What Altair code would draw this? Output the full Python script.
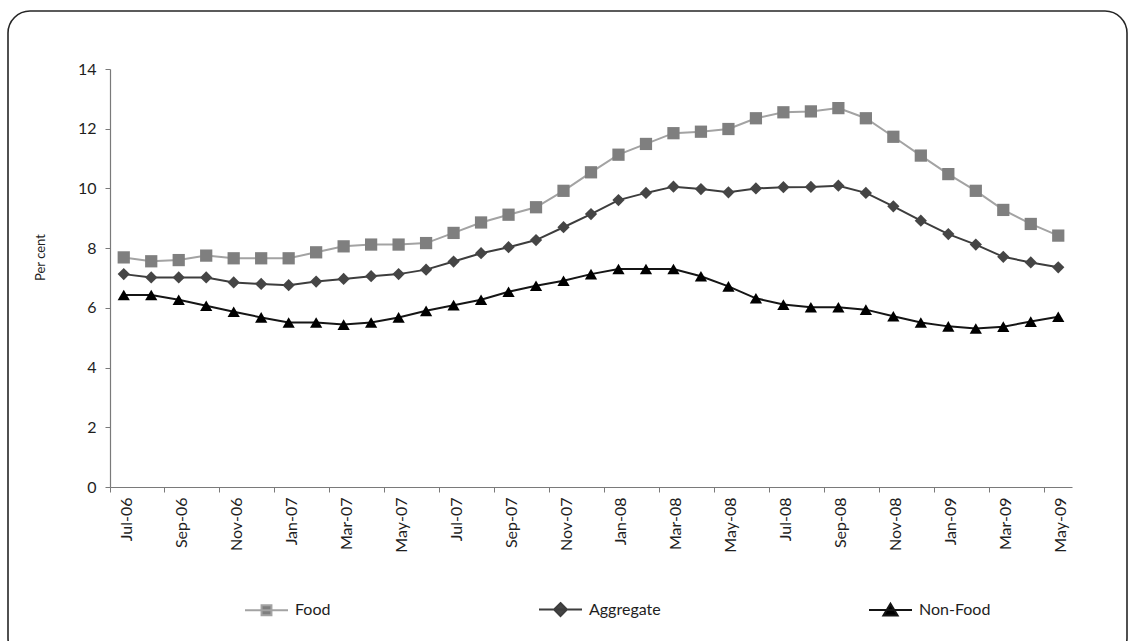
import altair as alt
import pandas as pd

# Monthly inflation (per cent), July 2006 to May 2009
months = [
    "Jul-06", "Aug-06", "Sep-06", "Oct-06", "Nov-06", "Dec-06",
    "Jan-07", "Feb-07", "Mar-07", "Apr-07", "May-07", "Jun-07",
    "Jul-07", "Aug-07", "Sep-07", "Oct-07", "Nov-07", "Dec-07",
    "Jan-08", "Feb-08", "Mar-08", "Apr-08", "May-08", "Jun-08",
    "Jul-08", "Aug-08", "Sep-08", "Oct-08", "Nov-08", "Dec-08",
    "Jan-09", "Feb-09", "Mar-09", "Apr-09", "May-09",
]

food = [
    7.69, 7.56, 7.60, 7.75, 7.66, 7.66,
    7.66, 7.86, 8.06, 8.12, 8.12, 8.17,
    8.51, 8.86, 9.12, 9.37, 9.92, 10.54,
    11.13, 11.49, 11.85, 11.90, 11.99, 12.35,
    12.55, 12.58, 12.69, 12.35, 11.73, 11.10,
    10.48, 9.92, 9.28, 8.81, 8.42,
]

aggregate = [
    7.13, 7.02, 7.02, 7.02, 6.85, 6.80,
    6.76, 6.88, 6.97, 7.06, 7.13, 7.28,
    7.55, 7.83, 8.03, 8.27, 8.70, 9.14,
    9.61, 9.85, 10.06, 9.98, 9.87, 10.00,
    10.04, 10.05, 10.09, 9.85, 9.40, 8.92,
    8.47, 8.12, 7.71, 7.52, 7.36,
]

non_food = [
    6.43, 6.43, 6.27, 6.07, 5.87, 5.68,
    5.51, 5.51, 5.44, 5.51, 5.68, 5.90,
    6.09, 6.27, 6.54, 6.74, 6.91, 7.13,
    7.30, 7.30, 7.30, 7.06, 6.72, 6.32,
    6.11, 6.02, 6.02, 5.94, 5.72, 5.51,
    5.38, 5.31, 5.37, 5.54, 5.70,
]

series_names = ["Food", "Aggregate", "Non-Food"]
y_ticks = [0, 2, 4, 6, 8, 10, 12, 14]

# Styling
line_colors = ["#a3a3a3", "#3d3d3d", "#151515"]
marker_colors = ["#7f7f7f", "#454545", "#000000"]
marker_shapes = ["square", "diamond", "triangle-up"]
# Legend keys: a short line segment with the series marker in the middle
legend_paths = [
    "M-1,0H1M-0.23,-0.23H0.23V0.23H-0.23Z",
    "M-1,0H1M0,-0.3L0.3,0L0,0.3L-0.3,0Z",
    "M-1,0H1M0,-0.29L0.33,0.26L-0.33,0.26Z",
]

rows = []
for name, vals in zip(series_names, [food, aggregate, non_food]):
    for m, v in zip(months, vals):
        rows.append({"month": m, "series": name, "value": v})
df = pd.DataFrame(rows)

FONT = "Lato"
TEXT = "#1e1e1e"
AXIS = "#7a7a7a"

x_enc = alt.X(
    "month:O",
    sort=months,
    scale=alt.Scale(type="band", paddingInner=0, paddingOuter=0),
    axis=alt.Axis(
        values=months[::2],
        bandPosition=0,
        labelAngle=-90,
        labelFontSize=16,
        labelColor=TEXT,
        labelPadding=5,
        labelOffset=3,
        tickSize=5,
        tickColor=AXIS,
        domainColor=AXIS,
        domainWidth=1.2,
        grid=False,
        title=None,
    ),
)

y_enc = alt.Y(
    "value:Q",
    scale=alt.Scale(domain=[0, 14], nice=False, zero=True),
    axis=alt.Axis(
        values=y_ticks,
        grid=False,
        tickSize=5,
        tickColor=AXIS,
        domainColor=AXIS,
        domainWidth=1.2,
        labelFontSize=16,
        labelColor=TEXT,
        labelPadding=9,
        title="Per cent",
        titleFontSize=13,
        titleFontWeight="normal",
        titleColor=TEXT,
        titleX=-70,
        titleY=188,
        titleAlign="center",
        titleBaseline="middle",
    ),
)

base = alt.Chart(df).encode(x=x_enc, y=y_enc)

lines = base.mark_line(strokeWidth=2).encode(
    stroke=alt.Stroke(
        "series:N",
        scale=alt.Scale(domain=series_names, range=line_colors),
        legend=None,
    ),
    detail="series:N",
)

points = base.mark_point(filled=True, opacity=1, size=150).encode(
    shape=alt.Shape(
        "series:N",
        scale=alt.Scale(domain=series_names, range=marker_shapes),
        legend=None,
    ),
    fill=alt.Fill(
        "series:N",
        scale=alt.Scale(domain=series_names, range=marker_colors),
        legend=None,
    ),
)

key_legend = alt.Legend(
    title=None,
    orient="none",
    legendX=134,
    legendY=518,
    direction="horizontal",
    columnPadding=204,
    gridAlign="each",
    labelFont=FONT,
    labelFontSize=16,
    labelColor=TEXT,
    labelOffset=6,
    symbolSize=1849,
    symbolStrokeWidth=2,
    symbolOpacity=1,
)

# Invisible layer whose only job is to carry the legend keys
keys = base.mark_point(filled=True, opacity=0, size=1849).encode(
    shape=alt.Shape(
        "series:N",
        scale=alt.Scale(domain=series_names, range=legend_paths),
        legend=key_legend,
    ),
    fill=alt.Fill(
        "series:N",
        scale=alt.Scale(domain=series_names, range=marker_colors),
        legend=key_legend,
    ),
    stroke=alt.Stroke(
        "series:N",
        scale=alt.Scale(domain=series_names, range=line_colors),
        legend=key_legend,
    ),
)

# Rounded outer frame
frame = alt.Chart(pd.DataFrame({"k": [0]})).mark_rect(
    filled=False, stroke="#262626", strokeWidth=1.6, cornerRadius=22
).encode(
    x=alt.value(-102), x2=alt.value(1017), y=alt.value(-58), y2=alt.value(591)
)

chart = (
    alt.layer(frame, lines, points, keys)
    .resolve_scale(shape="independent", fill="independent", stroke="independent")
    .properties(
        width=962,
        height=418,
        padding={"left": 110, "top": 69, "right": 56, "bottom": 154},
        autosize=alt.AutoSizeParams(type="none"),
        background="white",
    )
    .configure(font=FONT)
    .configure_view(stroke=None)
)

chart.save("out.html", embed_options={"renderer": "svg", "actions": False})
